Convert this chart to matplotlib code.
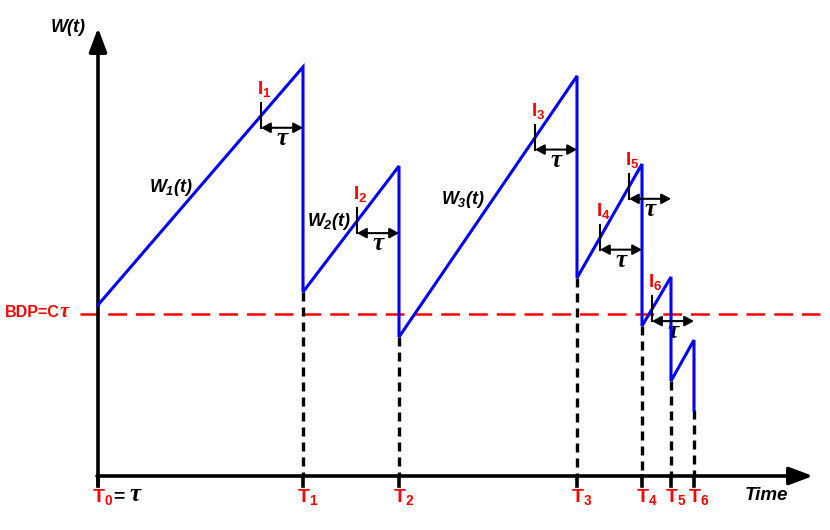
import numpy as np
import matplotlib.pyplot as plt
from matplotlib.patches import ArrowStyle

plt.rcParams['font.family'] = 'Liberation Sans'
plt.rcParams['mathtext.fontset'] = 'custom'
plt.rcParams['mathtext.it'] = 'Liberation Sans:italic:bold'
plt.rcParams['mathtext.rm'] = 'Liberation Sans:italic:bold'
plt.rcParams['mathtext.bf'] = 'Liberation Sans:bold'

# drop instants T0..T6 (time axis) and window sizes of each cycle
T = [0, 205, 301, 479, 544, 573, 596]
w_init = 171
w_peak = [409, 310, 400, 312, 199, 136]
w_after = [184, 139, 198, 150, 95, 66]
bdp = 162
tau = 42
t_labels = [r'$\mathbf{T_%d}$' % k for k in range(7)]
i_labels = [r'$\mathbf{I_%d}$' % k for k in range(1, 7)]
w_labels = [r'$W_1(t)$', r'$W_2(t)$', r'$W_3(t)$']
w_label_pos = [(73, 289), (231, 255), (365, 276)]

fig = plt.figure(figsize=(8.3, 5.3), dpi=100)
ax = fig.add_axes([0, 0, 1, 1])
ax.set_xlim(-98, 732)
ax.set_ylim(-54, 476)
ax.axis('off')


def rise_y(x):
    for k in range(len(T) - 1):
        if T[k] <= x < T[k + 1]:
            base = w_init if k == 0 else w_after[k - 1]
            return base + (x - T[k]) / (T[k + 1] - T[k]) * (w_peak[k] - base)
    return w_after[-1]


# sawtooth
xs = [T[0]]
ys = [w_init]
for k in range(6):
    xs += [T[k + 1], T[k + 1]]
    ys += [w_peak[k], w_after[k]]
ax.plot(xs, ys, color='#0000ff', lw=2.2, solid_joinstyle='miter', zorder=4)

# dashed drops to the time axis
for k in range(6):
    ax.plot([T[k + 1]] * 2, [w_after[k], 0], color='black', lw=2.4,
            linestyle=(0, (2.7, 1.8)), zorder=3)

# BDP line
ax.plot([-18, 722], [bdp, bdp], color='red', lw=1.8,
        linestyle=(0, (7.5, 3.6)), zorder=2)
ax.text(-38, 159, 'BDP=C', color='red', fontsize=11.5, weight='bold',
        ha='right', va='baseline')
ax.text(-38, 159, 'τ', color='red', fontsize=15, family='Liberation Serif',
        weight='bold', style='italic', ha='left', va='baseline')

# axes with arrows
big = ArrowStyle('-|>', head_length=0.72, head_width=0.27)
ax.annotate('', xy=(0, 448), xytext=(0, -10),
            arrowprops=dict(arrowstyle=big, color='black', lw=2.6,
                            shrinkA=0, shrinkB=0, mutation_scale=20))
ax.annotate('', xy=(715, 0), xytext=(-1, 0),
            arrowprops=dict(arrowstyle=big, color='black', lw=2.6,
                            shrinkA=0, shrinkB=0, mutation_scale=20))
for t in T:
    ax.plot([t, t], [0, -10], color='black', lw=2.6)

ax.text(-30, 448, r'$W(t)$', fontsize=13, ha='center', va='center')
ax.text(668, -20, 'Time', fontsize=13.5, weight='bold', style='italic',
        ha='center', va='center')

# T labels
for t, lab in zip(T, t_labels):
    ax.text(t - 6, -26, lab, color='red', fontsize=14, ha='left', va='baseline')
ax.text(15, -25, '=', fontsize=14, weight='bold', ha='left', va='baseline')
ax.text(31, -25, 'τ', fontsize=18, family='Liberation Serif', weight='bold',
        style='italic', ha='left', va='baseline')

# I markers and tau arrows
small = ArrowStyle('<|-|>', head_length=0.55, head_width=0.3)
for k in range(1, 7):
    xi = T[k] - tau
    yl = rise_y(xi)
    ax.plot([xi, xi], [yl + 13, yl - 12], color='black', lw=1.5, zorder=5)
    ax.annotate('', xy=(T[k], yl - 12), xytext=(xi, yl - 12),
                arrowprops=dict(arrowstyle=small, color='black', lw=1.5,
                                shrinkA=0, shrinkB=0, mutation_scale=10),
                zorder=5)
    ax.text((xi + T[k]) / 2, yl - 29, 'τ', fontsize=18, family='Liberation Serif',
            weight='bold', style='italic', ha='center', va='baseline')
    ax.text(xi - 4, yl + 22, i_labels[k - 1], color='red', fontsize=13.5,
            ha='left', va='baseline')

for lab, (x, y) in zip(w_labels, w_label_pos):
    ax.text(x, y, lab, fontsize=13, ha='center', va='center')

fig.savefig('out.png', dpi=100)
